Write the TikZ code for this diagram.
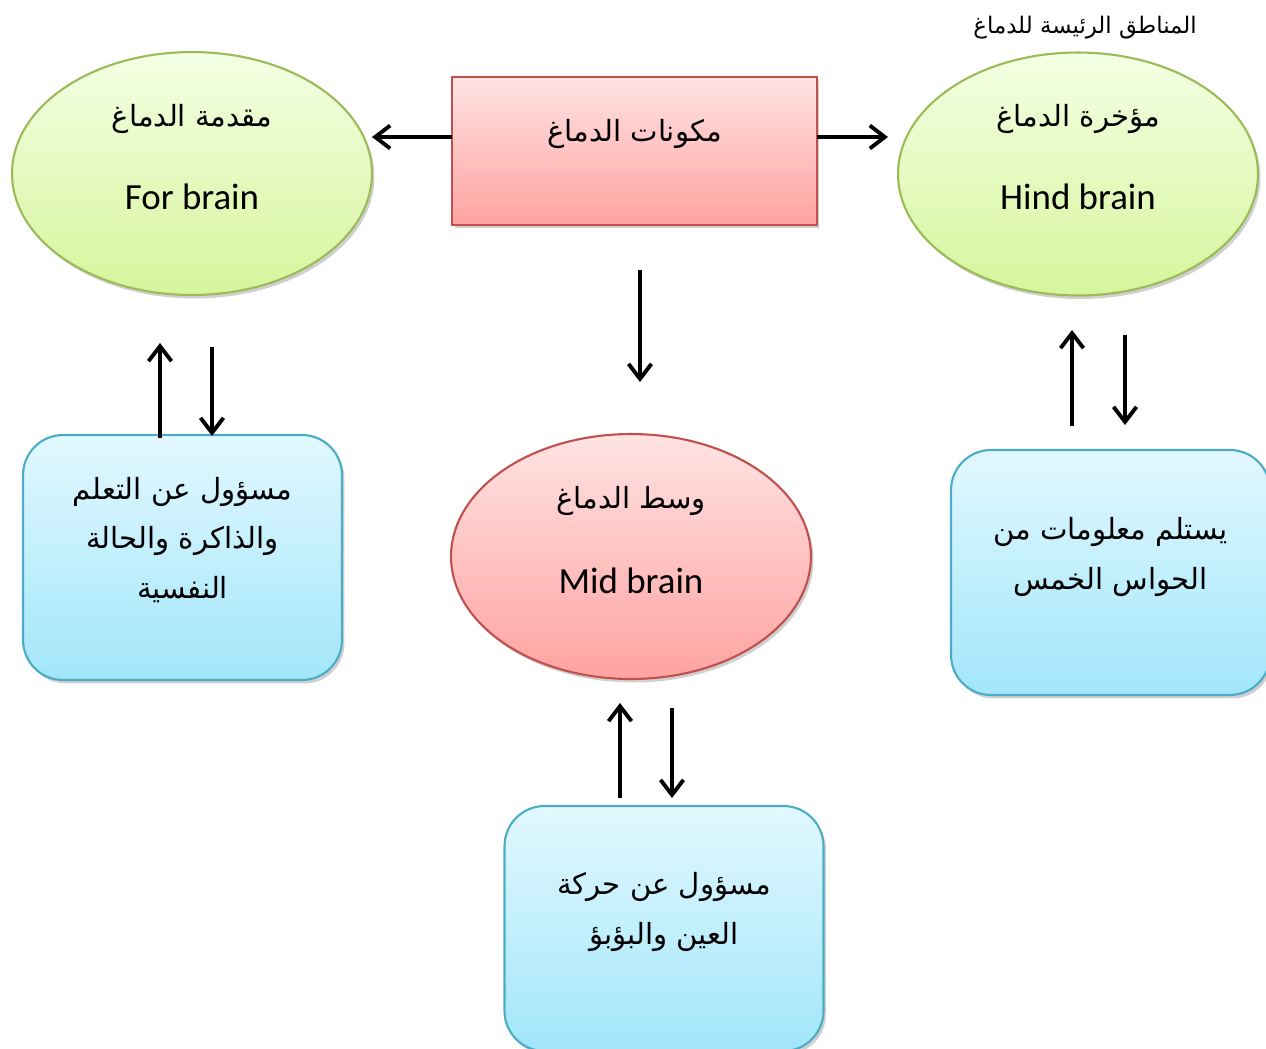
\documentclass[tikz,border=0pt]{standalone}
\usepackage{fontspec}
\setmainfont{Carlito}
\newfontfamily\arabicfont[Script=Arabic]{DejaVu Sans}
\TeXXeTstate=1
\usetikzlibrary{shapes.geometric,arrows.meta,shadows}
\definecolor{grnT}{HTML}{F4FFE4}
\definecolor{grnB}{HTML}{D6F59C}
\definecolor{grnD}{HTML}{9BBB59}
\definecolor{pnkT}{HTML}{FFE3E3}
\definecolor{pnkB}{HTML}{FFA3A1}
\definecolor{pnkD}{HTML}{C0504D}
\definecolor{bluT}{HTML}{E2F8FF}
\definecolor{bluB}{HTML}{A2E6FA}
\definecolor{bluD}{HTML}{4BACC6}
\tikzset{
  shad/.style={drop shadow={shadow xshift=0.05cm,shadow yshift=-0.07cm,opacity=0.3,fill=black!60}},
  greenell/.style={ellipse,draw=grnD,line width=1.2pt,top color=grnT,bottom color=grnB,minimum width=7.2cm,minimum height=4.86cm,inner sep=0pt,shad},
  pinkell/.style={ellipse,draw=pnkD,line width=1.2pt,top color=pnkT,bottom color=pnkB,minimum width=7.2cm,minimum height=4.9cm,inner sep=0pt,shad},
  pinkbox/.style={rectangle,draw=pnkD,line width=1.2pt,top color=pnkT,bottom color=pnkB,minimum width=7.3cm,minimum height=2.96cm,inner sep=0pt,shad},
  bluebox/.style={rectangle,rounded corners=0.8cm,draw=bluD,line width=1.2pt,top color=bluT,bottom color=bluB,minimum width=6.38cm,minimum height=4.9cm,inner sep=0pt,shad},
  ar/.style={font=\arabicfont\fontsize{16.6}{28}\selectfont,align=center,inner sep=0pt},
  artitle/.style={font=\arabicfont\fontsize{13}{16}\selectfont,inner sep=0pt},
  en/.style={font=\fontsize{21}{25}\selectfont,inner sep=0pt},
  arr/.style={line width=2.2pt,-{Straight Barb[length=0.3cm,width=0.46cm,line width=2.2pt]}}
}
\begin{document}
\begin{tikzpicture}[x=0.02cm,y=-0.02cm]
\useasboundingbox (0,0) rectangle (1266,1048);
\clip (0,0) rectangle (1266,1048);
\fill[white] (0,0) rectangle (1266,1048);
% title
\node[artitle] (title) at (1085,28) {\beginR المناطق الرئيسة للدماغ\endR};
% top row
\node[greenell] (fore) at (192,173.5) {};
\node[ar] (foreAr) at (192,119) {\beginR مقدمة الدماغ\endR};
\node[en] (foreEn) at (192,197) {For brain};
\node[greenell] (hind) at (1078,174) {};
\node[ar] (hindAr) at (1078,119) {\beginR مؤخرة الدماغ\endR};
\node[en] (hindEn) at (1078,197) {Hind brain};
\node[pinkbox] (comp) at (634.5,151) {};
\node[ar] (compAr) at (634.5,134) {\beginR مكونات الدماغ\endR};
% mid
\node[pinkell] (mid) at (631,556.5) {};
\node[ar] (midAr) at (631,501) {\beginR وسط الدماغ\endR};
\node[en] (midEn) at (631,581) {Mid brain};
% boxes
\node[bluebox] (lbox) at (182.5,557.5) {};
\node[ar] (lboxT) at (182.5,540) {\beginR مسؤول عن التعلم\endR\\\beginR والذاكرة والحالة\endR\\\beginR النفسية\endR};
\node[bluebox] (rbox) at (1110.5,572.5) {};
\node[ar] (rboxT) at (1110.5,557) {\beginR يستلم معلومات من\endR\\\beginR الحواس الخمس\endR};
\node[bluebox] (bbox) at (664,928.5) {};
\node[ar] (bboxT) at (664,912) {\beginR مسؤول عن حركة\endR\\\beginR العين والبؤبؤ\endR};
% coordinates
\coordinate (cl1) at (452,137); \coordinate (cl2) at (372,137);
\coordinate (cr1) at (817,137); \coordinate (cr2) at (888,137);
\coordinate (cd1) at (640,270); \coordinate (cd2) at (640,382);
\coordinate (lu1) at (160,438); \coordinate (lu2) at (160,343);
\coordinate (ld1) at (212,347); \coordinate (ld2) at (212,436);
\coordinate (mu1) at (620,798); \coordinate (mu2) at (620,703);
\coordinate (md1) at (672,708); \coordinate (md2) at (672,798);
\coordinate (ru1) at (1072,426); \coordinate (ru2) at (1072,330);
\coordinate (rd1) at (1125,335); \coordinate (rd2) at (1125,425);
% arrows
\draw[arr] (cl1) -- (cl2);
\draw[arr] (cr1) -- (cr2);
\draw[arr] (cd1) -- (cd2);
\draw[arr] (lu1) -- (lu2);
\draw[arr] (ld1) -- (ld2);
\draw[arr] (mu1) -- (mu2);
\draw[arr] (md1) -- (md2);
\draw[arr] (ru1) -- (ru2);
\draw[arr] (rd1) -- (rd2);
\end{tikzpicture}
\end{document}
